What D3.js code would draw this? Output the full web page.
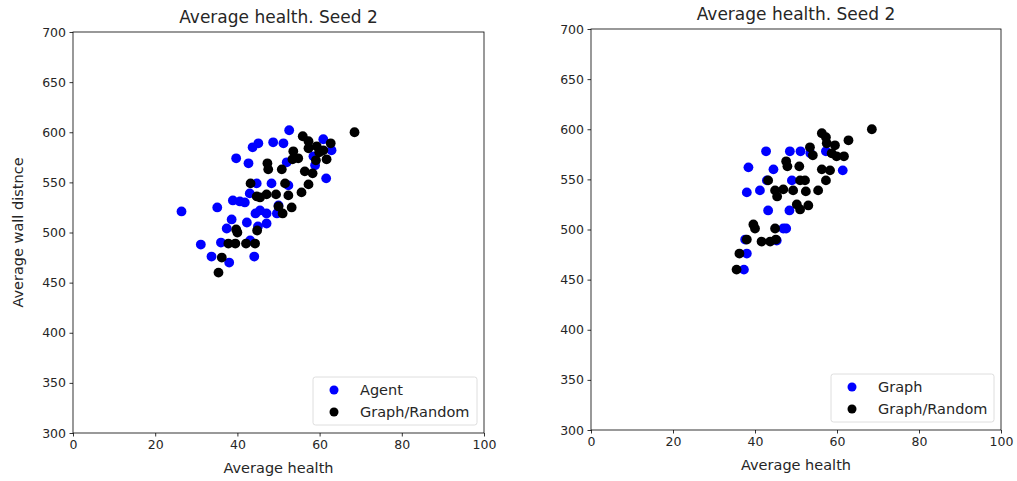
<!DOCTYPE html>
<html>
<head>
<meta charset="utf-8">
<script src="https://cdn.jsdelivr.net/npm/d3@7"></script>
<style>
  body { margin: 0; background: #fff; }
  svg { display: block; font-family: "DejaVu Sans", sans-serif; }
</style>
</head>
<body>
<svg id="chart" width="1017" height="481"></svg>
<script>
// Left panel: Agent vs Graph/Random  [average health, average wall distance]
const agentPoints = [
  [26.4, 521], [35.1, 525], [31.1, 488], [33.7, 476], [38.0, 470], [36.0, 490],
  [37.4, 504], [38.6, 513], [42.3, 510], [44.1, 476], [43.1, 492], [39.7, 574],
  [42.7, 569], [43.7, 585], [45.1, 589], [48.7, 590], [51.2, 589], [52.6, 602],
  [60.9, 593], [62.9, 582], [61.6, 554], [52.0, 570], [40.6, 531], [41.8, 530],
  [43.0, 539], [44.7, 549], [48.3, 549], [44.4, 519], [47.1, 519], [47.1, 509],
  [45.0, 506], [49.6, 519], [50.0, 527], [52.4, 547], [58.9, 567], [58.5, 576],
  [38.9, 532], [45.5, 522]
];
const randomPointsA = [
  [68.5, 600], [35.4, 460], [36.2, 475], [37.8, 489], [39.7, 503], [44.8, 502],
  [42.1, 489], [44.3, 489], [43.2, 549], [44.7, 536], [45.5, 535], [47.1, 538],
  [49.4, 538], [52.4, 537], [51.6, 549], [50.0, 526], [51.0, 519], [53.2, 525],
  [47.3, 569], [47.5, 563], [50.8, 563], [55.6, 540], [57.3, 548], [56.4, 561],
  [58.3, 559], [53.6, 581], [53.4, 573], [54.8, 574], [55.9, 596], [57.3, 591],
  [57.3, 584], [59.3, 586], [59.9, 580], [59.1, 572], [61.7, 573], [62.7, 589],
  [60.9, 582], [39.5, 489], [40.0, 500]
];

// Right panel: Graph vs Graph/Random
const graphPoints = [
  [38.4, 562], [42.7, 578], [48.5, 578], [51.1, 578], [44.5, 560], [38.0, 537],
  [41.2, 539], [42.9, 549], [49.0, 549], [43.2, 519], [48.4, 519], [47.6, 501],
  [61.4, 559], [37.6, 490], [45.3, 489], [38.0, 476], [37.3, 460], [57.3, 578],
  [46.9, 501], [53.5, 576]
];
const randomPointsB = [
  [68.5, 600], [35.5, 460], [36.2, 476], [38.0, 490], [39.6, 505], [40.0, 501],
  [41.6, 488], [43.7, 488], [45.1, 490], [44.9, 501], [43.2, 549], [44.9, 539],
  [45.4, 533], [46.9, 540], [49.3, 539], [47.6, 568], [47.9, 563], [50.8, 563],
  [51.0, 549], [52.2, 549], [52.4, 538], [50.2, 525], [51.0, 520], [53.0, 524],
  [55.4, 539], [56.3, 560], [58.3, 559], [57.3, 549], [53.4, 582], [54.1, 574],
  [56.3, 596], [57.3, 592], [57.5, 586], [59.5, 584], [59.9, 573], [61.7, 573],
  [62.8, 589], [58.7, 576]
];

const xTicks = [0, 20, 40, 60, 80, 100];
const yTicks = [300, 350, 400, 450, 500, 550, 600, 650, 700];
const titleText = "Average health. Seed 2";
const xLabel = "Average health";
const yLabel = "Average wall distnce";

const svg = d3.select("#chart");

function panel(opts) {
  const { left, right, top, bottom, seriesA, seriesB, nameA, nameB, showYLabel, legendBox } = opts;
  const x = d3.scaleLinear().domain([0, 100]).range([left, right]);
  const y = d3.scaleLinear().domain([300, 700]).range([bottom, top]);
  const g = svg.append("g");

  const xAxis = d3.axisBottom(x).tickValues(xTicks).tickSizeOuter(0).tickSize(3.5).tickPadding(3.5);
  const yAxis = d3.axisLeft(y).tickValues(yTicks).tickSizeOuter(0).tickSize(3.5).tickPadding(3.5);

  // markers: first series underneath, Graph/Random on top
  g.append("g").selectAll("circle").data(seriesA).join("circle")
    .attr("cx", d => x(d[0])).attr("cy", d => y(d[1])).attr("r", 4.9)
    .attr("fill", "#0000ff");
  g.append("g").selectAll("circle").data(seriesB).join("circle")
    .attr("cx", d => x(d[0])).attr("cy", d => y(d[1])).attr("r", 4.9)
    .attr("fill", "#000000");

  const gx = g.append("g").attr("transform", `translate(0,${bottom})`).call(xAxis);
  const gy = g.append("g").attr("transform", `translate(${left},0)`).call(yAxis);
  [gx, gy].forEach(a => {
    a.select(".domain").remove();
    a.selectAll("text").attr("font-size", 12.5).attr("fill", "#262626")
      .attr("font-family", "DejaVu Sans, sans-serif");
    a.selectAll("line").attr("stroke", "#000").attr("stroke-width", 0.8);
  });

  // frame
  g.append("rect").attr("x", left).attr("y", top)
    .attr("width", right - left).attr("height", bottom - top)
    .attr("fill", "none").attr("stroke", "#000").attr("stroke-width", 0.8);

  // title
  g.append("text").attr("x", (left + right) / 2).attr("y", top - 9)
    .attr("text-anchor", "middle").attr("font-size", 17).attr("fill", "#262626")
    .text(titleText);

  // x label
  g.append("text").attr("x", (left + right) / 2).attr("y", bottom + 40)
    .attr("text-anchor", "middle").attr("font-size", 14.5).attr("fill", "#262626")
    .text(xLabel);

  if (showYLabel) {
    g.append("text")
      .attr("transform", `translate(${left - 50},${(top + bottom) / 2}) rotate(-90)`)
      .attr("text-anchor", "middle").attr("font-size", 14.5).attr("fill", "#262626")
      .text(yLabel);
  }

  // legend
  const lg = g.append("g");
  lg.append("rect").attr("x", legendBox.x).attr("y", legendBox.y)
    .attr("width", legendBox.w).attr("height", legendBox.h).attr("rx", 2.5)
    .attr("fill", "rgba(255,255,255,0.8)").attr("stroke", "#d6d6d6").attr("stroke-width", 0.8);
  [[nameA, "#0000ff"], [nameB, "#000000"]].forEach(([name, color], i) => {
    const cy = legendBox.y + 13 + i * 22;
    lg.append("circle").attr("cx", legendBox.x + 21).attr("cy", cy).attr("r", 4.5).attr("fill", color);
    lg.append("text").attr("x", legendBox.x + 47).attr("y", cy + 5)
      .attr("font-size", 14.5).attr("fill", "#262626").text(name);
  });
}

panel({
  left: 73, right: 484, top: 32, bottom: 433,
  seriesA: agentPoints, seriesB: randomPointsA,
  nameA: "Agent", nameB: "Graph/Random", showYLabel: true,
  legendBox: { x: 313, y: 377, w: 164, h: 48 }
});
panel({
  left: 591, right: 1001, top: 29, bottom: 430,
  seriesA: graphPoints, seriesB: randomPointsB,
  nameA: "Graph", nameB: "Graph/Random", showYLabel: false,
  legendBox: { x: 831, y: 374, w: 163, h: 48 }
});
</script>
</body>
</html>
